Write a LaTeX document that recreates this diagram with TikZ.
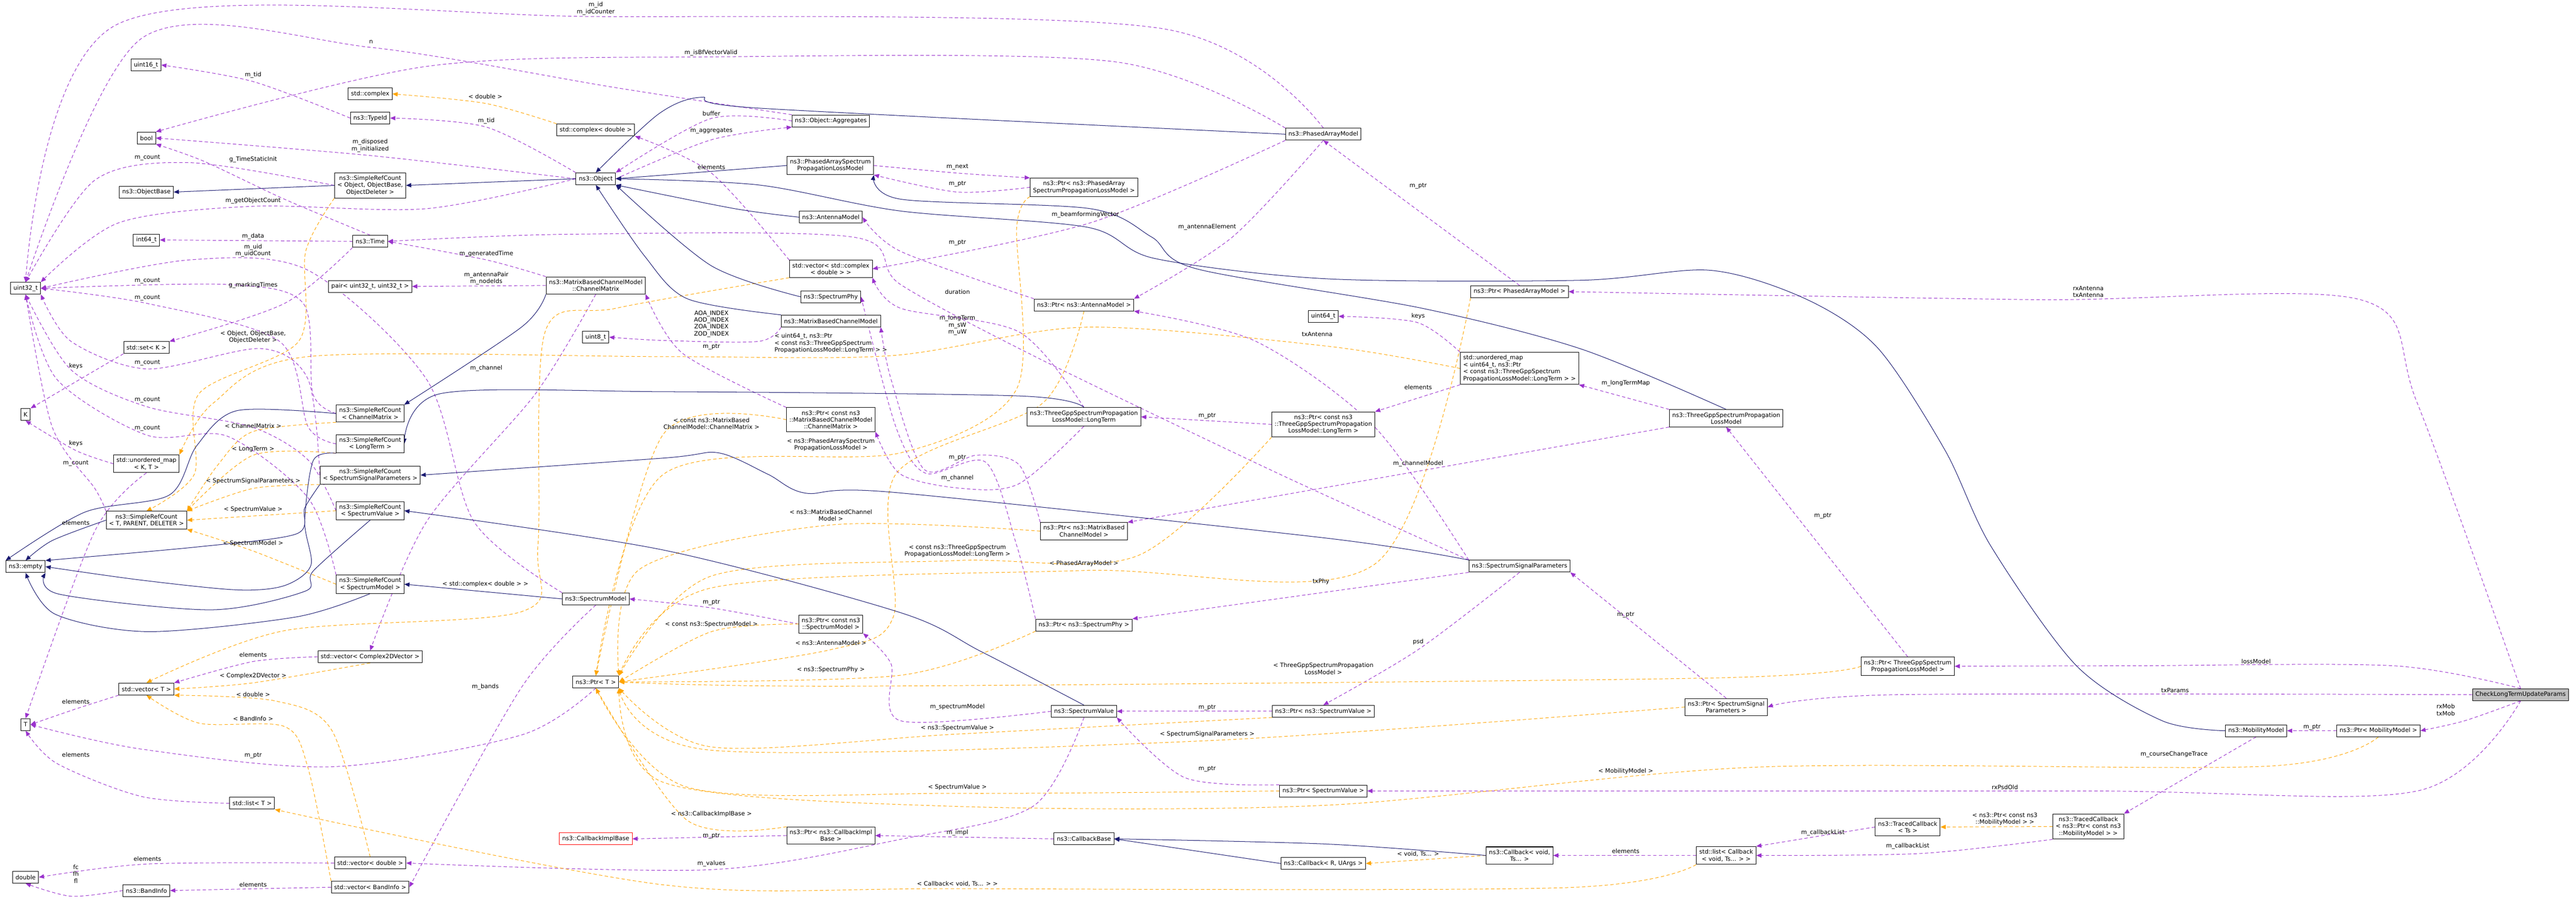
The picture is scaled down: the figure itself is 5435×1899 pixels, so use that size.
\documentclass[tikz,border=0pt]{standalone}
\usepackage{fontspec}
\setmainfont{DejaVu Sans}
\usetikzlibrary{arrows.meta}
\definecolor{purp}{HTML}{9A32CD}
\definecolor{orng}{HTML}{FFA500}
\definecolor{mblue}{HTML}{191970}
\pgfdeclarelayer{bg}\pgfsetlayers{bg,main}
\tikzset{
 box/.style={draw=black,line width=1.1pt,fill=white,inner xsep=6pt,inner ysep=6pt,minimum height=25pt,align=center,font=\fontsize{12.5}{14.5}\selectfont},
 lab/.style={inner sep=0pt,align=center,font=\fontsize{12.5}{14.5}\selectfont},
 pu/.style={draw=purp,line width=1.1pt,dash pattern=on 7pt off 5pt,-{Triangle[length=11pt,width=9pt]}},
 og/.style={draw=orng,line width=1.1pt,dash pattern=on 7pt off 5pt,-{Triangle[length=11pt,width=9pt]}},
 bl/.style={draw=mblue,line width=1.1pt,-{Triangle[length=11pt,width=9pt]}},
}
\begin{document}
\begin{tikzpicture}[x=1pt,y=-1pt]
\useasboundingbox (0,0) rectangle (5435,1899);
% left column nodes
\node[box] (u16) at (308,137) {uint16\_t};
\node[box] (cplx) at (781,198) {std::complex};
\node[box] (tid) at (781,249) {ns3::TypeId};
\node[box] (bool) at (309,291) {bool};
\node[box] (cpd) at (1257,274) {std::complex< double >};
\node[box] (srcobj) at (781,391) {ns3::SimpleRefCount\\< Object, ObjectBase,\\ObjectDeleter >};
\node[box] (objb) at (309,405) {ns3::ObjectBase};
\node[box] (obj) at (1257,377) {ns3::Object};
\node[box] (i64) at (309,506) {int64\_t};
\node[box] (time) at (781,509) {ns3::Time};
\node[box] (u32) at (54,608) {uint32\_t};
\node[box] (pair) at (781,604) {pair< uint32\_t, uint32\_t >};
\node[box] (chm) at (1257,602) {ns3::MatrixBasedChannelModel\\::ChannelMatrix};
\node[box] (u8) at (1257,711) {uint8\_t};
\node[box] (setk) at (309,733) {std::set< K >};
\node[box] (K) at (54,874) {K};
\node[box] (srccm) at (781,872) {ns3::SimpleRefCount\\< ChannelMatrix >};
\node[box] (srclt) at (781,936) {ns3::SimpleRefCount\\< LongTerm >};
\node[box] (umap) at (309,978) {std::unordered\_map\\< K, T >};
\node[box] (srcssp) at (781,1002) {ns3::SimpleRefCount\\< SpectrumSignalParameters >};
\node[box] (srct) at (309,1097) {ns3::SimpleRefCount\\< T, PARENT, DELETER >};
\node[box] (srcsv) at (781,1077) {ns3::SimpleRefCount\\< SpectrumValue >};
\node[box] (empty) at (54,1195) {ns3::empty};
\node[box] (srcsm) at (781,1232) {ns3::SimpleRefCount\\< SpectrumModel >};
\node[box] (sm) at (1257,1263) {ns3::SpectrumModel};
\node[box] (vc2) at (781,1385) {std::vector< Complex2DVector >};
\node[box] (vt) at (309,1453) {std::vector< T >};
\node[box] (ptrt) at (1257,1438) {ns3::Ptr< T >};
\node[box] (T) at (54,1528) {T};
\node[box] (listt) at (532,1694) {std::list< T >};
\node[box,draw=red] (cib) at (1257,1769) {ns3::CallbackImplBase};
\node[box] (vd) at (781,1820) {std::vector< double >};
\node[box] (dbl) at (54,1850) {double};
\node[box] (bi) at (309,1878) {ns3::BandInfo};
\node[box] (vbi) at (781,1871) {std::vector< BandInfo >};
% middle / right
\node[box] (aggr) at (1753,255) {ns3::Object::Aggregates};
\node[box] (paspl) at (1752,349) {ns3::PhasedArraySpectrum\\PropagationLossModel};
\node[box] (pam) at (2792,283) {ns3::PhasedArrayModel};
\node[box] (ppaspl) at (2287,395) {ns3::Ptr< ns3::PhasedArray\\SpectrumPropagationLossModel >};
\node[box] (ant) at (1753,458) {ns3::AntennaModel};
\node[box] (vcd) at (1753,567) {std::vector< std::complex\\< double > >};
\node[box] (sphy) at (1753,626) {ns3::SpectrumPhy};
\node[box] (pant) at (2287,643) {ns3::Ptr< ns3::AntennaModel >};
\node[box] (mbcm) at (1753,677) {ns3::MatrixBasedChannelModel};
\node[box] (u64) at (2792,667) {uint64\_t};
\node[box] (pchm) at (1753,885) {ns3::Ptr< const ns3\\::MatrixBasedChannelModel\\::ChannelMatrix >};
\node[box] (lt) at (2287,879) {ns3::ThreeGppSpectrumPropagation\\LossModel::LongTerm};
\node[box] (plt) at (2792,895) {ns3::Ptr< const ns3\\::ThreeGppSpectrumPropagation\\LossModel::LongTerm >};
\node[box] (ppam) at (3206,615) {ns3::Ptr< PhasedArrayModel >};
\node[box,align=left] (umlt) at (3206,777) {std::unordered\_map\\< uint64\_t, ns3::Ptr\\< const ns3::ThreeGppSpectrum\\PropagationLossModel::LongTerm > >};
\node[box] (tgpp) at (3642,882) {ns3::ThreeGppSpectrumPropagation\\LossModel};
\node[box] (pmbcm) at (2287,1120) {ns3::Ptr< ns3::MatrixBased\\ChannelModel >};
\node[box] (pcsm) at (1753,1316) {ns3::Ptr< const ns3\\::SpectrumModel >};
\node[box] (psphy) at (2287,1318) {ns3::Ptr< ns3::SpectrumPhy >};
\node[box] (sv) at (2287,1500) {ns3::SpectrumValue};
\node[box] (psv) at (2792,1500) {ns3::Ptr< ns3::SpectrumValue >};
\node[box] (pcib) at (1753,1762) {ns3::Ptr< ns3::CallbackImpl\\Base >};
\node[box] (cb) at (2287,1769) {ns3::CallbackBase};
\node[box] (psv2) at (2792,1668) {ns3::Ptr< SpectrumValue >};
\node[box] (cbru) at (2792,1821) {ns3::Callback< R, UArgs >};
\node[box] (ssp) at (3206,1194) {ns3::SpectrumSignalParameters};
\node[box] (ptgpp) at (4025,1405) {ns3::Ptr< ThreeGppSpectrum\\PropagationLossModel >};
\node[box] (pssp) at (3642,1491) {ns3::Ptr< SpectrumSignal\\Parameters >};
\node[box] (tcts) at (4025,1744) {ns3::TracedCallback\\< Ts >};
\node[box] (cbv) at (3206,1804) {ns3::Callback< void,\\Ts... >};
\node[box] (lcb) at (3642,1804) {std::list< Callback\\< void, Ts... > >};
\node[box,fill=black!25] (check) at (5318,1465) {CheckLongTermUpdateParams};
\node[box] (mm) at (4760,1541) {ns3::MobilityModel};
\node[box] (pmm) at (5018,1541) {ns3::Ptr< MobilityModel >};
\node[box] (tcmm) at (4406,1743) {ns3::TracedCallback\\< ns3::Ptr< const ns3\\::MobilityModel > >};

\begin{pgfonlayer}{bg}
% ---- purple usage edges
\draw[pu] plot[smooth] coordinates {(pam.north) (2450,60) (1257,35) (250,50) (u32.north)};
\draw[pu] plot[smooth] coordinates {(pam.north west) (2350,130) (1500,120) (900,140) (bool.north east)};
\draw[pu] plot[smooth] coordinates {(aggr.north west) (1300,185) (783,100) (300,80) (u32.north)};
\draw[pu] plot[smooth] coordinates {(tid.west) (534,172) (u16.east)};
\draw[pu] plot[smooth] coordinates {(obj.north west) (1026,268) (tid.east)};
\draw[pu] plot[smooth] coordinates {(obj.west) (781,328) (bool.east)};
\draw[pu] plot[smooth] coordinates {(srcobj.west) (400,343) (200,380) (u32.north)};
\draw[pu] plot[smooth] coordinates {(time.north) (600,420) (430,340) (bool.south east)};
\draw[pu] plot[smooth] coordinates {(obj.west) (900,440) (534,435) (250,470) (u32.north east)};
\draw[pu] (time.west) -- (i64.east);
\draw[pu] plot[smooth] coordinates {(chm.north west) (1026,548) (time.east)};
\draw[pu] (chm.west) -- (pair.east);
\draw[pu] plot[smooth] coordinates {(sm.north west) (1000,1100) (900,800) (650,570) (400,548) (u32.east)};
\draw[pu] plot[smooth] coordinates {(srccm.west) (660,830) (640,640) (480,600) (u32.east)};
\draw[pu] plot[smooth] coordinates {(time.south west) (600,640) (setk.north east)};
\draw[pu] plot[smooth] coordinates {(srclt.west) (650,900) (590,720) (311,640) (u32.east)};
\draw[pu] plot[smooth] coordinates {(srcssp.west) (650,800) (550,735) (311,778) (150,720) (u32.south east)};
\draw[pu] (setk.south west) -- (K.north east);
\draw[pu] plot[smooth] coordinates {(srcsv.west) (650,970) (530,900) (311,858) (150,780) (u32.south)};
\draw[pu] plot[smooth] coordinates {(srcsm.north west) (650,1050) (480,920) (311,918) (120,800) (u32.south)};
\draw[pu] plot[smooth] coordinates {(umap.west) (160,950) (K.south)};
\draw[pu] plot[smooth] coordinates {(srct.north west) (200,1030) (110,900) (u32.south)};
\draw[pu] plot[smooth] coordinates {(umap.south) (200,1120) (T.north)};
\draw[pu] plot[smooth] coordinates {(vc2.west) (534,1395) (vt.north east)};
\draw[pu] plot[smooth] coordinates {(vt.south west) (160,1495) (T.east)};
\draw[pu] plot[smooth] coordinates {(ptrt.south) (1100,1550) (700,1617) (300,1580) (T.east)};
\draw[pu] plot[smooth] coordinates {(listt.west) (300,1680) (120,1610) (T.south)};
\draw[pu] plot[smooth] coordinates {(chm.south) (1130,830) (900,1100) (vc2.north)};
\draw[pu] plot[smooth] coordinates {(sm.south) (1100,1450) (vbi.east)};
\draw[pu] plot[smooth] coordinates {(vd.west) (311,1822) (dbl.east)};
\draw[pu] plot[smooth] coordinates {(bi.west) (150,1890) (dbl.south)};
\draw[pu] (vbi.west) -- (bi.east);
\draw[pu] plot[smooth] coordinates {(sv.south) (2180,1700) (1900,1770) (1500,1834) (vd.east)};
\draw[pu] plot[smooth] coordinates {(aggr.west) (1500,250) (obj.north east)};
\draw[pu] plot[smooth] coordinates {(obj.east) (1500,295) (aggr.south west)};
\draw[pu] plot[smooth] coordinates {(vcd.north west) (1501,365) (cpd.south east)};
\draw[pu] plot[smooth] coordinates {(paspl.east) (2020,365) (ppaspl.north west)};
\draw[pu] plot[smooth] coordinates {(ppaspl.west) (2020,405) (paspl.south east)};
\draw[pu] plot[smooth] coordinates {(pam.south west) (2300,470) (vcd.east)};
\draw[pu] plot[smooth] coordinates {(pam.south) (2600,500) (pant.north east)};
\draw[pu] (ppam.north) -- (pam.south);
\draw[pu] plot[smooth] coordinates {(pant.north west) (1900,530) (ant.east)};
\draw[pu] plot[smooth] coordinates {(ssp.north west) (2700,1000) (2200,760) (1900,600) (1800,500) (1200,494) (time.east)};
\draw[pu] plot[smooth] coordinates {(lt.north) (2150,700) (1900,650) (vcd.south east)};
\draw[pu] plot[smooth] coordinates {(mbcm.south west) (1600,720) (1400,718) (u8.east)};
\draw[pu] plot[smooth] coordinates {(psphy.north west) (2145,1150) (2080,975) (1953,998) (1890,900) (sphy.east)};
\draw[pu] plot[smooth] coordinates {(lt.south) (2150,1020) (2030,1030) (1900,1000) (pchm.south east)};
\draw[pu] plot[smooth] coordinates {(pmbcm.north west) (2150,980) (2060,960) (1950,990) (1880,800) (mbcm.south east)};
\draw[pu] plot[smooth] coordinates {(pchm.north west) (1440,745) (chm.south east)};
\draw[pu] (plt.west) -- (lt.east);
\draw[pu] (umlt.south west) -- (plt.north east);
\draw[pu] plot[smooth] coordinates {(umlt.north west) (2990,680) (u64.east)};
\draw[pu] (tgpp.north west) -- (umlt.south east);
\draw[pu] (tgpp.south west) -- (pmbcm.north east);
\draw[pu] (ptgpp.north) -- (tgpp.south);
\draw[pu] plot[smooth] coordinates {(ssp.north west) (2900,900) (2650,720) (pant.south east)};
\draw[pu] (ssp.south west) -- (psphy.north east);
\draw[pu] plot[smooth] coordinates {(ssp.south) (2992,1370) (psv.north)};
\draw[pu] (pssp.north) -- (ssp.south east);
\draw[pu] plot[smooth] coordinates {(pcsm.west) (1501,1282) (sm.east)};
\draw[pu] plot[smooth] coordinates {(sv.west) (1900,1520) (1880,1400) (pcsm.south east)};
\draw[pu] (psv.west) -- (sv.east);
\draw[pu] plot[smooth] coordinates {(psv2.north west) (2500,1640) (sv.south east)};
\draw[pu] (pcib.west) -- (cib.east);
\draw[pu] (cb.west) -- (pcib.east);
\draw[pu] (lcb.west) -- (cbv.east);
\draw[pu] (tcts.west) -- (lcb.north east);
\draw[pu] plot[smooth] coordinates {(tcmm.south west) (4050,1800) (lcb.east)};
\draw[pu] (mm.south) -- (tcmm.north east);
\draw[pu] (pmm.west) -- (mm.east);
\draw[pu] plot[smooth] coordinates {(check.south) (5200,1520) (pmm.east)};
\draw[pu] plot[smooth] coordinates {(check.south) (5100,1668) (4400,1668) (psv2.east)};
\draw[pu] plot[smooth] coordinates {(check.west) (4000,1465) (pssp.east)};
\draw[pu] plot[smooth] coordinates {(check.north) (5050,1404) (4500,1404) (ptgpp.east)};
\draw[pu] plot[smooth] coordinates {(check.north) (5100,850) (4980,632) (4300,632) (ppam.east)};
% ---- orange template edges
\draw[og] plot[smooth] coordinates {(cpd.north west) (1024,218) (cplx.east)};
\draw[og] plot[smooth] coordinates {(srcobj.south west) (645,530) (630,720) (420,830) (410,1000) (srct.north)};
\draw[og] plot[smooth] coordinates {(srccm.south west) (534,910) (460,980) (srct.north east)};
\draw[og] plot[smooth] coordinates {(srclt.south west) (534,960) (srct.north east)};
\draw[og] plot[smooth] coordinates {(srcssp.south west) (534,1030) (srct.north east)};
\draw[og] (srcsv.west) -- (srct.east);
\draw[og] plot[smooth] coordinates {(srcsm.west) (534,1162) (srct.south east)};
\draw[og] plot[smooth] coordinates {(umlt.west) (2800,730) (2290,690) (1880,750) (1400,752) (650,752) (450,850) (umap.north east)};
\draw[og] plot[smooth] coordinates {(vcd.south west) (1300,650) (1150,700) (1135,1150) (1100,1290) (600,1330) (vt.north)};
\draw[og] plot[smooth] coordinates {(vc2.south) (534,1440) (vt.east)};
\draw[og] plot[smooth] coordinates {(vd.north) (700,1540) (580,1478) (vt.south east)};
\draw[og] plot[smooth] coordinates {(vbi.north west) (650,1620) (600,1532) (420,1525) (vt.south)};
\draw[og] plot[smooth] coordinates {(lcb.south west) (3300,1872) (2020,1874) (1400,1866) (listt.south east)};
\draw[og] plot[smooth] coordinates {(ppaspl.south west) (2145,480) (2145,820) (1900,955) (1400,1000) (ptrt.north)};
\draw[og] plot[smooth] coordinates {(pchm.west) (1400,915) (ptrt.north)};
\draw[og] plot[smooth] coordinates {(pmbcm.west) (1753,1107) (1350,1200) (ptrt.north east)};
\draw[og] plot[smooth] coordinates {(plt.south west) (2400,1172) (2020,1182) (1500,1215) (ptrt.north east)};
\draw[og] plot[smooth] coordinates {(ppam.south west) (2900,1190) (2287,1203) (1500,1240) (ptrt.north east)};
\draw[og] plot[smooth] coordinates {(pcsm.west) (1501,1332) (ptrt.east)};
\draw[og] plot[smooth] coordinates {(pant.south) (2200,850) (1890,1000) (1885,1300) (1753,1370) (ptrt.east)};
\draw[og] plot[smooth] coordinates {(psphy.south west) (1900,1424) (ptrt.east)};
\draw[og] plot[smooth] coordinates {(ptgpp.west) (3600,1430) (1800,1447) (ptrt.east)};
\draw[og] plot[smooth] coordinates {(psv.south west) (2020,1548) (1500,1575) (ptrt.south east)};
\draw[og] plot[smooth] coordinates {(pssp.west) (2547,1562) (1500,1582) (ptrt.south east)};
\draw[og] plot[smooth] coordinates {(psv2.west) (2020,1673) (1450,1660) (ptrt.south)};
\draw[og] plot[smooth] coordinates {(pcib.north west) (1450,1730) (ptrt.south)};
\draw[og] plot[smooth] coordinates {(pmm.south) (4780,1616) (3700,1618) (2800,1698) (2000,1700) (1400,1650) (ptrt.south east)};
\draw[og] (cbv.west) -- (cbru.east);
\draw[og] (tcmm.west) -- (tcts.east);
% ---- blue inheritance edges
\draw[bl] (srcobj.west) -- (objb.east);
\draw[bl] (obj.west) -- (srcobj.east);
\draw[bl] plot[smooth] coordinates {(pam.west) (1600,228) (1480,205) (1390,240) (obj.north)};
\draw[bl] (paspl.west) -- (obj.east);
\draw[bl] plot[smooth] coordinates {(tgpp.north) (3336,736) (3000,650) (2525,567) (2430,500) (2300,440) (1900,420) (paspl.south east)};
\draw[bl] plot[smooth] coordinates {(mm.west) (4562,1520) (4381,1404) (4200,1151) (4104,950) (3961,733) (3809,630) (3608,570) (3336,591) (2800,588) (2436,545) (2293,479) (1900,445) (1600,390) (obj.east)};
\draw[bl] plot[smooth] coordinates {(ant.west) (1550,440) (obj.south east)};
\draw[bl] plot[smooth] coordinates {(sphy.west) (1500,560) (obj.south east)};
\draw[bl] plot[smooth] coordinates {(mbcm.north west) (1450,630) (1360,540) (obj.south)};
\draw[bl] plot[smooth] coordinates {(chm.south west) (1100,690) (srccm.north east)};
\draw[bl] plot[smooth] coordinates {(lt.north) (2150,835) (1400,826) (930,830) (srclt.east)};
\draw[bl] plot[smooth] coordinates {(ssp.north west) (2800,1135) (1882,1038) (1700,1040) (1620,1000) (1516,955) (1400,966) (srcssp.east)};
\draw[bl] plot[smooth] coordinates {(sv.north) (2070,1374) (1900,1292) (1400,1160) (srcsv.east)};
\draw[bl] (sm.west) -- (srcsm.east);
\draw[bl] plot[smooth] coordinates {(srct.west) (110,1140) (empty.north)};
\draw[bl] plot[smooth] coordinates {(srccm.west) (500,866) (415,940) (357,1044) (179,1080) (empty.north west)};
\draw[bl] plot[smooth] coordinates {(srclt.south west) (661,971) (643,1101) (656,1192) (600,1235) (500,1244) (295,1223) (empty.east)};
\draw[bl] plot[smooth] coordinates {(srcssp.south west) (643,1071) (625,1126) (420,1153) (empty.north east)};
\draw[bl] plot[smooth] coordinates {(srcsv.south) (661,1204) (643,1247) (446,1286) (125,1253) (empty.south east)};
\draw[bl] plot[smooth] coordinates {(srcsm.south) (625,1301) (312,1332) (116,1295) (empty.south)};
\draw[bl] (cbru.west) -- (cb.east);
\draw[bl] plot[smooth] coordinates {(cbv.west) (2800,1780) (cb.east)};
\end{pgfonlayer}
% ---- labels
\node[lab] at (1257,18) {m\_id\\m\_idCounter};
\node[lab] at (1500,111) {m\_isBfVectorValid};
\node[lab] at (783,88) {n};
\node[lab] at (534,158) {m\_tid};
\node[lab] at (1026,255) {m\_tid};
\node[lab] at (781,307) {m\_disposed\\m\_initialized};
\node[lab] at (311,332) {m\_count};
\node[lab] at (534,336) {g\_TimeStaticInit};
\node[lab] at (534,423) {m\_getObjectCount};
\node[lab] at (534,498) {m\_data};
\node[lab] at (1026,535) {m\_generatedTime};
\node[lab] at (1026,587) {m\_antennaPair\\m\_nodeIds};
\node[lab] at (534,528) {m\_uid\\m\_uidCount};
\node[lab] at (311,592) {m\_count};
\node[lab] at (534,602) {g\_markingTimes};
\node[lab] at (311,628) {m\_count};
\node[lab] at (311,765) {m\_count};
\node[lab] at (160,772) {keys};
\node[lab] at (311,843) {m\_count};
\node[lab] at (311,903) {m\_count};
\node[lab] at (160,935) {keys};
\node[lab] at (160,977) {m\_count};
\node[lab] at (160,1102) {elements};
\node[lab] at (534,1381) {elements};
\node[lab] at (160,1480) {elements};
\node[lab] at (534,1593) {m\_ptr};
\node[lab] at (160,1592) {elements};
\node[lab] at (1026,777) {m\_channel};
\node[lab] at (1024,1448) {m\_bands};
\node[lab] at (311,1811) {elements};
\node[lab] at (160,1843) {fc\\fh\\fl};
\node[lab] at (534,1865) {elements};
\node[lab] at (1501,1821) {m\_values};
\node[lab] at (1501,239) {buffer};
\node[lab] at (1501,276) {m\_aggregates};
\node[lab] at (1501,352) {elements};
\node[lab] at (2020,352) {m\_next};
\node[lab] at (2020,388) {m\_ptr};
\node[lab] at (2290,453) {m\_beamformingVector};
\node[lab] at (2547,479) {m\_antennaElement};
\node[lab] at (2992,392) {m\_ptr};
\node[lab] at (2020,512) {m\_ptr};
\node[lab] at (2020,615) {duration};
\node[lab] at (2020,686) {m\_longTerm\\m\_sW\\m\_uW};
\node[lab] at (1501,683) {AOA\_INDEX\\AOD\_INDEX\\ZOA\_INDEX\\ZOD\_INDEX};
\node[lab] at (2020,965) {m\_ptr};
\node[lab] at (2020,1008) {m\_channel};
\node[lab] at (1501,731) {m\_ptr};
\node[lab] at (2547,877) {m\_ptr};
\node[lab] at (2992,817) {elements};
\node[lab] at (2992,667) {keys};
\node[lab] at (3430,808) {m\_longTermMap};
\node[lab] at (2992,978) {m\_channelModel};
\node[lab] at (3846,1088) {m\_ptr};
\node[lab] at (2779,705) {txAntenna};
\node[lab] at (2787,1227) {txPhy};
\node[lab] at (2992,1354) {psd};
\node[lab] at (3430,1297) {m\_ptr};
\node[lab] at (1501,1270) {m\_ptr};
\node[lab] at (2020,1491) {m\_spectrumModel};
\node[lab] at (2547,1492) {m\_ptr};
\node[lab] at (2547,1622) {m\_ptr};
\node[lab] at (1501,1763) {m\_ptr};
\node[lab] at (2020,1756) {m\_impl};
\node[lab] at (3430,1795) {elements};
\node[lab] at (3846,1756) {m\_callbackList};
\node[lab] at (4025,1784) {m\_callbackList};
\node[lab] at (4587,1591) {m\_courseChangeTrace};
\node[lab] at (4878,1533) {m\_ptr};
\node[lab] at (5160,1497) {rxMob\\txMob};
\node[lab] at (4230,1660) {rxPsdOld};
\node[lab] at (4589,1456) {txParams};
\node[lab] at (4760,1395) {lossModel};
\node[lab] at (4406,615) {rxAntenna\\txAntenna};
% orange labels
\node[lab] at (1024,203) {< double >};
\node[lab] at (534,711) {< Object, ObjectBase,\\ObjectDeleter >};
\node[lab] at (534,898) {< ChannelMatrix >};
\node[lab] at (534,947) {< LongTerm >};
\node[lab] at (534,1014) {< SpectrumSignalParameters >};
\node[lab] at (534,1074) {< SpectrumValue >};
\node[lab] at (534,1146) {< SpectrumModel >};
\node[lab,align=left] at (1753,724) {< uint64\_t, ns3::Ptr\\< const ns3::ThreeGppSpectrum\\PropagationLossModel::LongTerm > >};
\node[lab] at (1024,1232) {< std::complex< double > >};
\node[lab] at (534,1425) {< Complex2DVector >};
\node[lab] at (534,1464) {< double >};
\node[lab] at (534,1515) {< BandInfo >};
\node[lab] at (2020,1864) {< Callback< void, Ts... > >};
\node[lab] at (1753,938) {< ns3::PhasedArraySpectrum\\PropagationLossModel >};
\node[lab] at (1501,893) {< const ns3::MatrixBased\\ChannelModel::ChannelMatrix >};
\node[lab] at (1753,1087) {< ns3::MatrixBasedChannel\\Model >};
\node[lab] at (2020,1162) {< const ns3::ThreeGppSpectrum\\PropagationLossModel::LongTerm >};
\node[lab] at (2287,1188) {< PhasedArrayModel >};
\node[lab] at (1501,1317) {< const ns3::SpectrumModel >};
\node[lab] at (1753,1356) {< ns3::AntennaModel >};
\node[lab] at (1753,1412) {< ns3::SpectrumPhy >};
\node[lab] at (2792,1410) {< ThreeGppSpectrumPropagation\\LossModel >};
\node[lab] at (2020,1535) {< ns3::SpectrumValue >};
\node[lab] at (2547,1548) {< SpectrumSignalParameters >};
\node[lab] at (2020,1660) {< SpectrumValue >};
\node[lab] at (1501,1717) {< ns3::CallbackImplBase >};
\node[lab] at (3430,1626) {< MobilityModel >};
\node[lab] at (2992,1801) {< void, Ts... >};
\node[lab] at (4230,1727) {< ns3::Ptr< const ns3\\::MobilityModel > >};
\end{tikzpicture}
\end{document}
